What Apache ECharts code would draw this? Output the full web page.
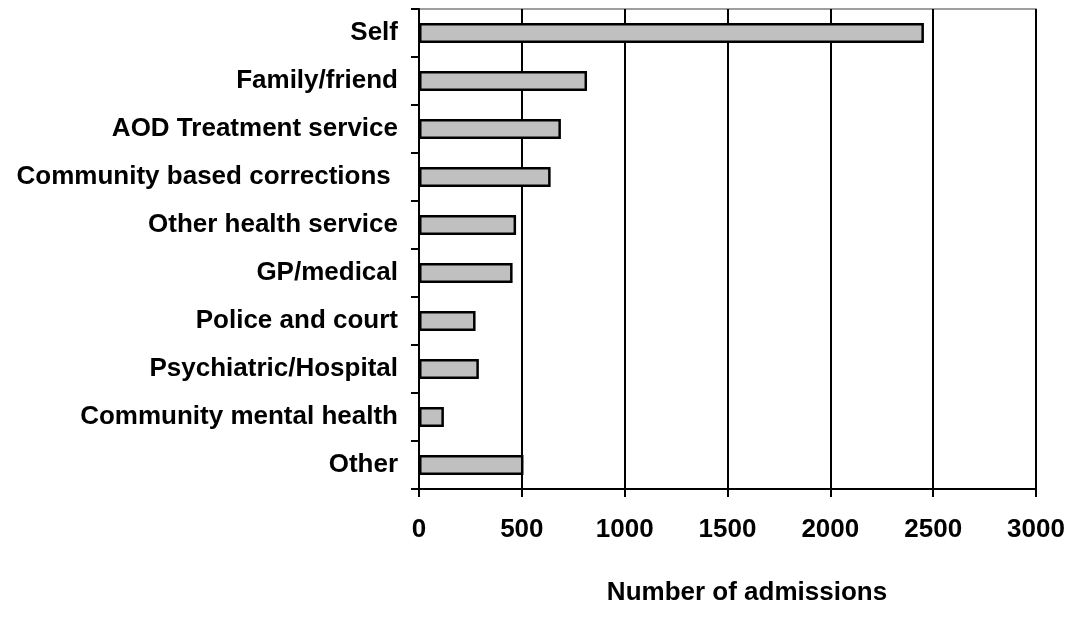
<!DOCTYPE html>
<html>
<head>
<meta charset="utf-8">
<script src="https://cdn.jsdelivr.net/npm/echarts@6/dist/echarts.min.js"></script>
<style>
html,body{margin:0;padding:0;background:#fff;}
#main{width:1071px;height:634px;}
</style>
</head>
<body>
<div id="main"></div>
<script>
const categories = ["Self", "Family/friend", "AOD Treatment service", "Community based corrections ", "Other health service", "GP/medical", "Police and court", "Psychiatric/Hospital", "Community mental health", "Other"];
const admissions = [2455, 817, 690, 640, 472, 455, 275, 291, 121, 508];
const xTicks = [0, 500, 1000, 1500, 2000, 2500, 3000];
const axisTitle = "Number of admissions";

const chart = echarts.init(document.getElementById('main'), null, {renderer: 'canvas'});
const font = 'Liberation Sans, Arial, sans-serif';
chart.setOption({
  animation: false,
  backgroundColor: '#ffffff',
  title: {
    text: axisTitle,
    left: 742,
    top: 575,
    textAlign: 'center',
    textStyle: {fontFamily: font, fontWeight: 'bold', fontSize: 26, color: '#000'}
  },
  grid: {
    left: 419, right: 35, top: 9, bottom: 145,
    show: true, borderColor: '#808080', borderWidth: 1.5, containLabel: false
  },
  xAxis: {
    type: 'value',
    min: xTicks[0], max: xTicks[xTicks.length - 1], interval: 500,
    axisLine: {show: true, lineStyle: {color: '#000', width: 2}},
    axisTick: {show: true, length: 8, lineStyle: {color: '#000', width: 2}},
    splitLine: {show: true, lineStyle: {color: '#000', width: 2}},
    axisLabel: {
      margin: 28, fontFamily: font, fontWeight: 'bold', fontSize: 26, color: '#000',
      formatter: v => xTicks.includes(v) ? String(v) : ''
    }
  },
  yAxis: {
    type: 'category',
    data: categories,
    inverse: true,
    axisLine: {show: true, lineStyle: {color: '#000', width: 2}},
    axisTick: {show: true, length: 8, lineStyle: {color: '#000', width: 2}},
    axisLabel: {margin: 21, padding: [4, 0, 0, 0], fontFamily: font, fontWeight: 'bold', fontSize: 26, color: '#000'}
  },
  series: [{
    type: 'bar',
    data: admissions,
    barWidth: '42%',
    itemStyle: {color: '#c0c0c0', borderColor: '#000', borderWidth: 2.5}
  }]
});
</script>
</body>
</html>
